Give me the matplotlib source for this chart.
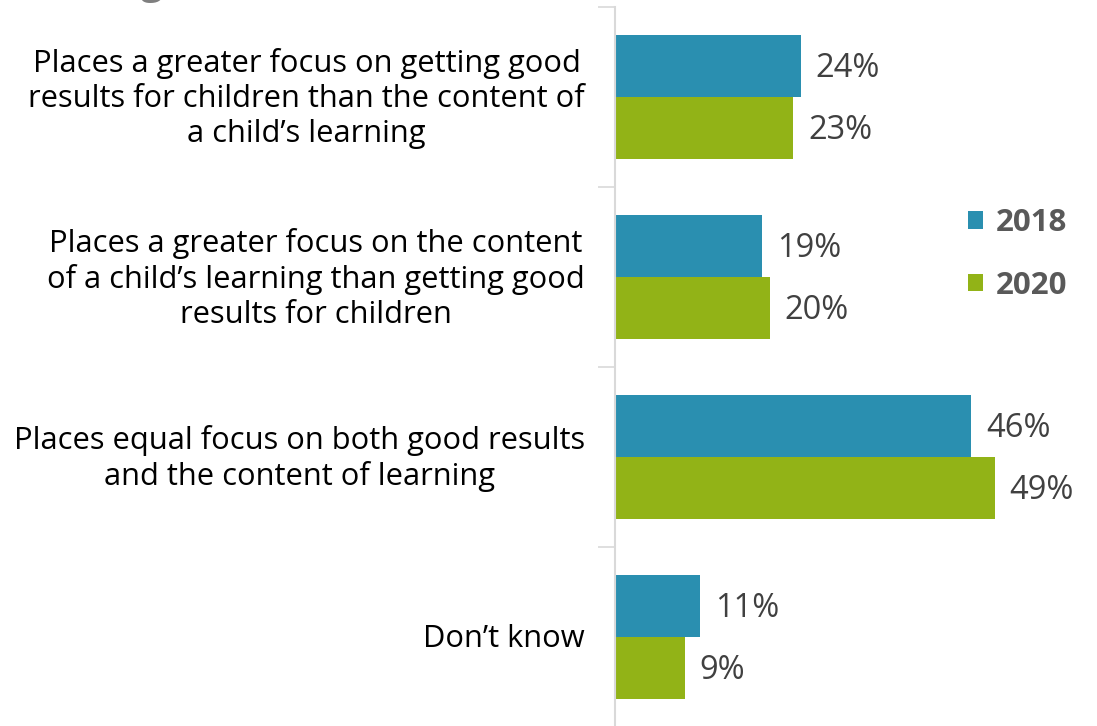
import numpy as np
import matplotlib
matplotlib.use('Agg')
import matplotlib.pyplot as plt

categories = [
    "Places a greater focus on getting good\nresults for children than the content of\na child\u2019s learning",
    "Places a greater focus on the content\nof a child\u2019s learning than getting good\nresults for children",
    "Places equal focus on both good results\nand the content of learning",
    "Don\u2019t know",
]
years = ['2018', '2020']
values_2018 = [24, 19, 46, 11]
values_2020 = [23, 20, 49, 9]

colors = {'2018': '#2A8FB0', '2020': '#92B317'}

plt.rcParams['font.family'] = ['Open Sans', 'DejaVu Sans']

fig = plt.figure(figsize=(10.97, 7.26), dpi=100)
ax = fig.add_axes([615 / 1097, -1 / 726, 482 / 1097, 720 / 726])

y = np.arange(len(categories))
h = 0.345
bars_a = ax.barh(y - h / 2, values_2018, height=h, color=colors['2018'], label=years[0])
bars_b = ax.barh(y + h / 2, values_2020, height=h, color=colors['2020'], label=years[1])

for bars, vals in ((bars_a, values_2018), (bars_b, values_2020)):
    for b, v in zip(bars, vals):
        ax.text(b.get_width() + 1.9, b.get_y() + b.get_height() / 2 + 0.015, f'{v}%',
                va='center', ha='left', fontsize=23.5, color='#404040')

ax.set_xlim(0, 62.2)
ax.set_ylim(3.5, -0.5)

# category labels sit left of the axis, centred line by line
for i, cat in enumerate(categories):
    ax.text(-3.9, i + 0.01, cat, ha='right', va='center', multialignment='center',
            fontsize=22.2, color='black', linespacing=1.22)

ax.set_yticks(np.arange(-0.5, len(categories) + 0.5, 1))
ax.set_yticklabels([])
ax.tick_params(axis='y', length=12, width=1.2, color='#D9D9D9', direction='out')
ax.set_xticks([])
for s in ('top', 'right', 'bottom'):
    ax.spines[s].set_visible(False)
ax.spines['left'].set_color('#D9D9D9')
ax.spines['left'].set_linewidth(1.5)

leg = ax.legend(loc='upper left', bbox_to_anchor=(968 / 1097, 1 - 208 / 726),
                bbox_transform=fig.transFigure, frameon=False, borderpad=0,
                borderaxespad=0, prop={'weight': 'bold', 'size': 22.5},
                handlelength=0.48, handleheight=0.48, handletextpad=0.4,
                labelspacing=1.05)
for t in leg.get_texts():
    t.set_color('#595959')

# tail of the heading that runs off the top edge
fig.text(152 / 1097, 1 + 6 / 726, 'g', ha='center', va='baseline',
         fontsize=28, fontweight='bold', color='#7F7F7F')

fig.savefig('out.png', dpi=100)
